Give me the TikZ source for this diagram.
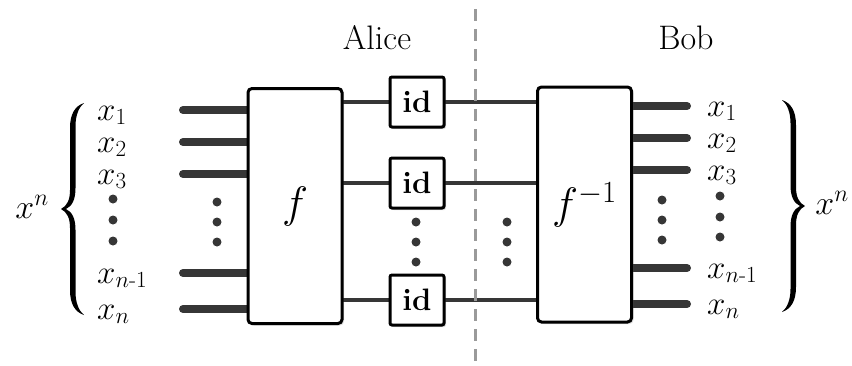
\RequirePackage{fix-cm}
\documentclass[tikz,border=0pt]{standalone}
\usepackage{amsmath}
\usetikzlibrary{shadows,backgrounds}
\definecolor{wire}{HTML}{363636}
\definecolor{divgray}{HTML}{9A9A9A}
\begin{document}
\begin{tikzpicture}[x=1pt,y=-1pt,
  bigbox/.style={draw=black, line width=3pt, rounded corners=4pt, fill=white,
    minimum width=94pt, minimum height=235pt, inner sep=0pt,
    font=\fontsize{44}{50}\selectfont,
    drop shadow={opacity=0.25, shadow xshift=2pt, shadow yshift=-2pt}},
  idbox/.style={draw=black, line width=3pt, rounded corners=2pt, fill=white,
    minimum width=54pt, minimum height=50pt, inner sep=0pt,
    font=\fontsize{31}{36}\selectfont\bfseries,
    drop shadow={opacity=0.25, shadow xshift=2pt, shadow yshift=-2pt}},
  thickwire/.style={wire, line width=8pt, line cap=round},
  thinwire/.style={wire, line width=4pt},
  lbl/.style={anchor=base west, inner sep=0pt, font=\fontsize{33}{38}\selectfont},
  biglbl/.style={inner sep=0pt, font=\fontsize{34}{40}\selectfont},
  bracefill/.style={fill=black},
  dotmark/.style={fill=wire},
  divider/.style={divgray, line width=3pt, dash pattern=on 12pt off 8pt}
]
\useasboundingbox (0,0) rectangle (852,365);

% boxes
\node[bigbox] (f) at (295,206) {$f$};
\node[bigbox] (finv) at (584.5,204.5) {$f^{-1}$};
\node[idbox] (id1) at (417,102) {id};
\node[idbox] (id2) at (417,183) {id};
\node[idbox] (id3) at (417,300) {id};

% headers
\node[biglbl] (alice) at (377,38) {Alice};
\node[biglbl] (bob) at (686,38) {Bob};

% free wire ends
\coordinate (L1) at (183,110);
\coordinate (L2) at (183,142);
\coordinate (L3) at (183,174);
\coordinate (L4) at (183,273);
\coordinate (L5) at (183,309);
\coordinate (R1) at (687,106);
\coordinate (R2) at (687,138);
\coordinate (R3) at (687,170);
\coordinate (R4) at (687,268);
\coordinate (R5) at (687,304);
\coordinate (dtop) at (475,9);
\coordinate (dbot) at (475,363);

\begin{scope}[on background layer]
  \foreach \i in {1,...,5} {
    \draw[thickwire] (L\i) -- (L\i -| f.center);
    \draw[thickwire] (R\i) -- (R\i -| finv.center);
  }
  \draw[thinwire] (id1 -| f.center) -- (id1 -| finv.center);
  \draw[thinwire] (id2 -| f.center) -- (id2 -| finv.center);
  \draw[thinwire] (id3 -| f.center) -- (id3 -| finv.center);
  \draw[divider] (dtop) -- (dbot);
\end{scope}

% left labels
\node[lbl] (lx1) at (97,120) {$x_1$};
\node[lbl] (lx2) at (97,152) {$x_2$};
\node[lbl] (lx3) at (97,184) {$x_3$};
\node[lbl] (lxm) at (97,283) {$x_{n\text{-}1}$};
\node[lbl] (lxn) at (97,319) {$x_n$};
% right labels
\node[lbl] (rx1) at (707,116) {$x_1$};
\node[lbl] (rx2) at (707,148) {$x_2$};
\node[lbl] (rx3) at (707,180) {$x_3$};
\node[lbl] (rxm) at (707,278) {$x_{n\text{-}1}$};
\node[lbl] (rxn) at (707,314) {$x_n$};

% braces (drawn shapes)
\def\bracepath{%
  (84,103) .. controls (75,106) and (70,114) .. (70,128)
  -- (70,190) .. controls (70,200) and (67,206) .. (61,209)
  .. controls (67,212) and (70,218) .. (70,228)
  -- (70,290) .. controls (70,304) and (75,312) .. (84,315)
  .. controls (79,311) and (75.5,303) .. (75.5,292)
  -- (75.5,230) .. controls (75.5,218) and (72,212) .. (66,209)
  .. controls (72,206) and (75.5,200) .. (75.5,188)
  -- (75.5,126) .. controls (75.5,115) and (79,107) .. (84,103) -- cycle}
\fill[bracefill] \bracepath;
\begin{scope}[shift={(866,-3)}, xscale=-1]
  \fill[bracefill] \bracepath;
\end{scope}
\node[biglbl] (lxsup) at (32,207) {$x^n$};
\node[biglbl] (rxsup) at (832,203) {$x^n$};

% dots
\foreach \x/\y in {113/199, 113/220, 113/241,
                   217/202, 217/222, 217/242,
                   416/222, 416/242, 416/262,
                   507/222, 507/242, 507/262,
                   662/200, 662/220, 662/240,
                   720/196, 720/217, 720/237}
  \fill[dotmark] (\x,\y) circle (4.5pt);
\end{tikzpicture}
\end{document}
